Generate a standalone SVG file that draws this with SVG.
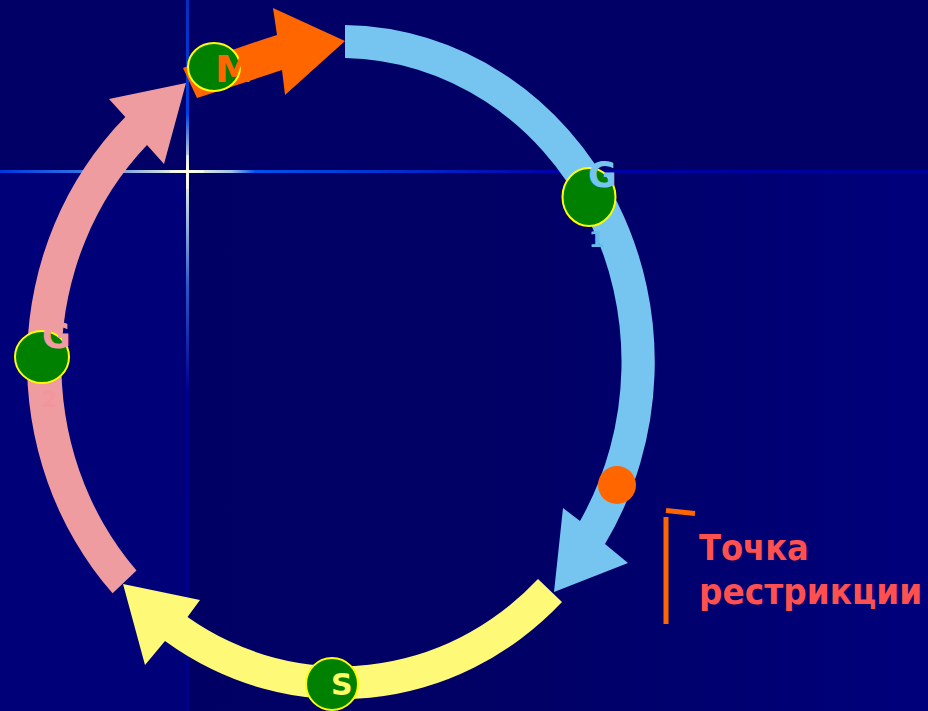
<svg xmlns="http://www.w3.org/2000/svg" width="928" height="711" viewBox="0 0 928 711">
  <defs>
    <linearGradient id="bgRight" x1="187" y1="0" x2="928" y2="0" gradientUnits="userSpaceOnUse">
      <stop offset="0" stop-color="#000064"/>
      <stop offset="0.45" stop-color="#000066"/>
      <stop offset="1" stop-color="#00007c"/>
    </linearGradient>
    <linearGradient id="hLine" x1="0" y1="0" x2="928" y2="0" gradientUnits="userSpaceOnUse">
      <stop offset="0" stop-color="#0035dd"/>
      <stop offset="0.1" stop-color="#3a7ae8"/>
      <stop offset="0.2015" stop-color="#ffffdd"/>
      <stop offset="0.25" stop-color="#9cc0ee"/>
      <stop offset="0.275" stop-color="#0050f0"/>
      <stop offset="0.36" stop-color="#0040dd"/>
      <stop offset="0.6" stop-color="#0000aa"/>
      <stop offset="1" stop-color="#00009a"/>
    </linearGradient>
    <linearGradient id="vLine" x1="0" y1="0" x2="0" y2="711" gradientUnits="userSpaceOnUse">
      <stop offset="0" stop-color="#0030c0"/>
      <stop offset="0.16" stop-color="#0040e0"/>
      <stop offset="0.24" stop-color="#ffffdd"/>
      <stop offset="0.3" stop-color="#a8c4e4"/>
      <stop offset="0.4" stop-color="#2a5ac8"/>
      <stop offset="0.55" stop-color="#000090"/>
      <stop offset="1" stop-color="#00008a"/>
    </linearGradient>
  </defs>
  <style>
    .phase { stroke: #ffff00; stroke-width: 2; fill: #008000; }
    .lbl { font-family: "DejaVu Sans", "Liberation Sans", sans-serif; font-weight: bold; }
    .sub { font-family: "DejaVu Sans", "Liberation Sans", sans-serif; font-weight: bold; font-size: 22px; }
  </style>

  <!-- background -->
  <rect x="0" y="0" width="928" height="711" fill="#000066"/>
  <rect x="0" y="171" width="187" height="540" fill="#000078"/>
  <rect x="188" y="171" width="740" height="540" fill="url(#bgRight)"/>
  <rect x="0" y="170" width="928" height="3" fill="url(#hLine)"/>
  <rect x="186" y="0" width="3" height="711" fill="url(#vLine)"/>
  <rect x="170" y="170.5" width="34" height="2" fill="#ffffee" opacity="0.8"/>
  <rect x="186.5" y="155" width="2" height="34" fill="#ffffee" opacity="0.8"/>

  <g id="connectors">
    <!-- G1 arc (blue) -->
    <path id="arc-G1" fill="#76c5f0" d="M 345,25 A 314 337 0 0 1 605,544 L 628,563 L 554,592 L 563,508 L 580,521 A 281 304 0 0 0 345,58 Z"/>
    <!-- S arc (yellow) -->
    <path id="arc-S" fill="#fff978" d="M 562,602 A 314 337 0 0 1 165,641 L 145,665 L 123,584 L 200,600 L 187.5,617 A 281 304 0 0 0 538,579 Z"/>
    <!-- G2 arc (pink) -->
    <path id="arc-G2" fill="#ef9ca0" d="M 112.6,593.3 A 314 337 0 0 1 125.3,117.1 L 109,99 L 186,83 L 164,164 L 147,145 A 281 304 0 0 0 136.5,570.5 Z"/>
    <!-- M arrow (orange) -->
    <path id="arc-M" fill="#ff6600" d="M 183,68 Q 230,50 277,35 L 273,8 L 345,41 L 285,95 L 282,70 Q 240,84 197,98 Z"/>
  </g>

  <g id="node-G1">
    <text class="sub" x="589" y="247" fill="#64bbec">1</text>
    <ellipse class="phase" cx="589" cy="197" rx="26.5" ry="29"/>
    <text class="lbl" x="588" y="187" font-size="35" fill="#76c5f0">G</text>
  </g>

  <g id="node-S">
    <ellipse class="phase" cx="332" cy="684" rx="26" ry="26"/>
    <text class="lbl" x="331" y="695" font-size="30" fill="#ffff66">S</text>
  </g>

  <g id="node-G2">
    <text class="sub" x="42" y="407" fill="#f3959a">2</text>
    <ellipse class="phase" cx="42" cy="357" rx="27" ry="26"/>
    <text class="lbl" x="42" y="348" font-size="35" fill="#ef9ca0">G</text>
  </g>

  <g id="node-M">
    <ellipse class="phase" cx="214" cy="67" rx="26" ry="24"/>
    <text class="lbl" x="215" y="82" font-size="38" fill="#ff6600">M</text>
  </g>

  <g id="restriction-point">
    <circle cx="617" cy="485" r="19" fill="#ff6600"/>
    <line x1="666" y1="517" x2="666" y2="624" stroke="#ff6600" stroke-width="5"/>
    <line x1="666" y1="510.5" x2="695" y2="513.5" stroke="#ff6600" stroke-width="5"/>
    <g transform="translate(699,0) scale(0.9,1)">
      <text class="lbl" font-size="36" fill="#ff5050">
        <tspan x="0" y="560" textLength="122" lengthAdjust="spacingAndGlyphs">Точка</tspan>
        <tspan x="0" y="604" textLength="248" lengthAdjust="spacingAndGlyphs">рестрикции</tspan>
      </text>
    </g>
  </g>
</svg>
